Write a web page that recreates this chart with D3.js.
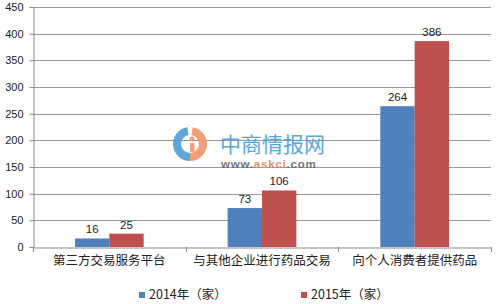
<!DOCTYPE html>
<html>
<head>
<meta charset="utf-8">
<script src="https://cdn.jsdelivr.net/npm/d3@7"></script>
<style>
  body { margin: 0; background: #fff; }
  svg text { font-family: "Noto Sans CJK SC", "DejaVu Sans", sans-serif; }
</style>
</head>
<body>
<div id="chart"></div>
<script>
// 数据
const categories = ["第三方交易服务平台", "与其他企业进行药品交易", "向个人消费者提供药品"];
const series = ["2014年（家）", "2015年（家）"];
const values2014 = [16, 73, 264];
const values2015 = [25, 106, 386];
const yTicks = [0, 50, 100, 150, 200, 250, 300, 350, 400, 450];
const colors = ["#4f81bd", "#c0504d"];

const width = 496, height = 304;
const margin = {top: 7, right: 5, bottom: 57, left: 33};

const svg = d3.select("#chart")
    .append("svg")
    .attr("width", width)
    .attr("height", height);

const x = d3.scaleBand()
    .domain(categories)
    .range([margin.left, width - margin.right]);

const inner = d3.scaleBand()
    .domain(series)
    .range([0, x.bandwidth() * 0.45])
    .padding(0);

const y = d3.scaleLinear()
    .domain([0, 450])
    .range([height - margin.bottom, margin.top]);

// 网格线
svg.append("g")
    .selectAll("line")
    .data(yTicks.slice(1))
    .join("line")
    .attr("x1", margin.left)
    .attr("x2", width - margin.right)
    .attr("y1", d => Math.round(y(d)) + 0.5)
    .attr("y2", d => Math.round(y(d)) + 0.5)
    .attr("stroke", "#9a9a9a")
    .attr("stroke-width", 1);

// y 轴
const yAxis = svg.append("g")
    .attr("transform", `translate(${margin.left + 0.5},0)`)
    .call(d3.axisLeft(y).tickValues(yTicks).tickSize(4).tickPadding(6));
yAxis.select(".domain").attr("stroke", "#8a8a8a");
yAxis.selectAll(".tick line").attr("stroke", "#8a8a8a");
yAxis.selectAll(".tick text")
    .attr("fill", "#222")
    .style("font-size", "11px")
    .style("font-family", "Arial, 'Liberation Sans', sans-serif");

// x 轴
const xAxis = svg.append("g")
    .attr("transform", `translate(0,${Math.round(y(0)) + 0.5})`)
    .call(d3.axisBottom(x).tickSize(0).tickPadding(9));
xAxis.select(".domain").attr("stroke", "#8a8a8a");
xAxis.selectAll(".tick text")
    .attr("fill", "#222")
    .style("font-size", "12.5px");

// 分类分隔刻度
svg.append("g")
    .selectAll("line")
    .data(categories.map(c => x(c)).concat([x(categories[2]) + x.bandwidth()]))
    .join("line")
    .attr("x1", d => Math.round(d) + 0.5)
    .attr("x2", d => Math.round(d) + 0.5)
    .attr("y1", y(0))
    .attr("y2", y(0) + 5)
    .attr("stroke", "#8a8a8a");

// 柱子
const data = categories.map((c, i) => ({
    cat: c,
    vals: [
        {s: series[0], v: values2014[i], color: colors[0]},
        {s: series[1], v: values2015[i], color: colors[1]}
    ]
}));

const groups = svg.append("g")
    .selectAll("g")
    .data(data)
    .join("g")
    .attr("transform", d => `translate(${x(d.cat) + (x.bandwidth() - inner.range()[1]) / 2},0)`);

groups.selectAll("rect")
    .data(d => d.vals)
    .join("rect")
    .attr("x", d => inner(d.s))
    .attr("y", d => y(d.v))
    .attr("width", inner.bandwidth())
    .attr("height", d => y(0) - y(d.v))
    .attr("fill", d => d.color);

groups.selectAll("text")
    .data(d => d.vals)
    .join("text")
    .attr("x", d => inner(d.s) + inner.bandwidth() / 2)
    .attr("y", d => y(d.v) - 5)
    .attr("text-anchor", "middle")
    .attr("fill", "#222")
    .style("font-size", "11.5px")
    .style("font-family", "Arial, 'Liberation Sans', sans-serif")
    .text(d => d.v);

// 水印
const wm = svg.append("g").attr("opacity", 0.9);
const arc = d3.arc();
wm.append("path")
    .attr("transform", "translate(190,144)")
    .attr("d", arc({innerRadius: 9, outerRadius: 17, startAngle: Math.PI * 0.05, endAngle: Math.PI * 1.0}) )
    .attr("fill", "#f0956a");
wm.append("path")
    .attr("transform", "translate(190,144)")
    .attr("d", arc({innerRadius: 9, outerRadius: 17, startAngle: Math.PI * 1.0, endAngle: Math.PI * 1.95}))
    .attr("fill", "#4a9ed6");
wm.append("circle").attr("cx", 192).attr("cy", 139).attr("r", 2.5).attr("fill", "#f0956a");
wm.append("rect").attr("x", 190).attr("y", 143).attr("width", 4.5).attr("height", 9).attr("fill", "#f0956a");
wm.append("text")
    .attr("x", 220).attr("y", 152)
    .attr("fill", "#4a9ed6")
    .style("font-size", "21px")
    .text("中商情报网");
const url = wm.append("text")
    .attr("x", 221).attr("y", 168)
    .attr("fill", "#666")
    .style("font-size", "11.5px")
    .style("font-weight", "bold")
    .style("font-family", "Arial, 'Liberation Sans', sans-serif")
    .style("letter-spacing", "0.8px");
url.append("tspan").text("www.");
url.append("tspan").attr("fill", "#e8845a").text("askci");
url.append("tspan").text(".com");

// 图例
const legendX = [139, 301];
const legend = svg.append("g")
    .selectAll("g")
    .data(series)
    .join("g")
    .attr("transform", (d, i) => `translate(${legendX[i]},292)`);
legend.append("rect")
    .attr("width", 6).attr("height", 6)
    .attr("fill", (d, i) => colors[i]);
legend.append("text")
    .attr("x", 10).attr("y", 7)
    .attr("fill", "#222")
    .style("font-size", "12.5px")
    .text(d => d);
</script>
</body>
</html>
